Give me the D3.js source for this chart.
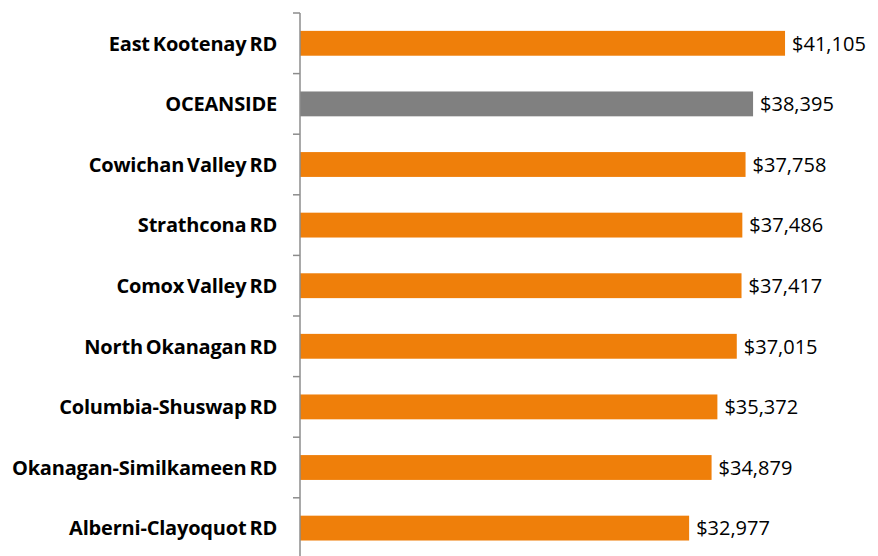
<!DOCTYPE html>
<html>
<head>
<meta charset="utf-8">
<script src="https://cdn.jsdelivr.net/npm/d3@7"></script>
<style>
  body { margin: 0; background: #fff; }
  svg { display: block; }
</style>
</head>
<body>
<div id="chart"></div>
<script>
// regions and median income values (top to bottom)
const regions = ["East Kootenay RD", "OCEANSIDE", "Cowichan Valley RD", "Strathcona RD",
  "Comox Valley RD", "North Okanagan RD", "Columbia-Shuswap RD",
  "Okanagan-Similkameen RD", "Alberni-Clayoquot RD"]
const incomes = [41105, 38395, 37758, 37486, 37417, 37015, 35372, 34879, 32977]
const highlight = "OCEANSIDE"

const width = 878,
    height = 556

const svg = d3.select("#chart")
  .append("svg")
    .attr("width", width)
    .attr("height", height)

// x scale: 0 sits on the axis line
var x = d3.scaleLinear()
  .domain([0, 45000])
  .range([300, 831])

var y = d3.scaleBand()
  .domain(regions)
  .range([13, 13 + 60.6 * regions.length])
  .paddingInner(0.59)
  .paddingOuter(0.295)

// bars
svg.selectAll("rect.bar")
  .data(regions)
  .enter()
  .append("rect")
    .attr("class", "bar")
    .attr("x", x(0))
    .attr("y", d => y(d))
    .attr("width", (d, i) => x(incomes[i]) - x(0))
    .attr("height", y.bandwidth())
    .attr("fill", d => d == highlight ? "#808080" : "#ef7f0a")

// value labels
svg.selectAll("text.val")
  .data(regions)
  .enter()
  .append("text")
    .attr("class", "val")
    .attr("x", (d, i) => x(incomes[i]) + 7)
    .attr("y", d => y(d) + y.bandwidth() / 2)
    .attr("dy", "0.36em")
    .style("font-family", "'Open Sans', sans-serif")
    .style("font-size", "20px")
    .style("fill", "#000")
    .text((d, i) => "$" + d3.format(",")(incomes[i]))

// axis line with ticks between categories
const axisG = svg.append("g")
axisG.append("line")
  .attr("x1", x(0)).attr("x2", x(0))
  .attr("y1", 13).attr("y2", height)
  .attr("stroke", "#8c8c8c")
  .attr("stroke-width", 1.5)

const step = y.step()
axisG.selectAll("line.tick")
  .data(d3.range(regions.length + 1))
  .enter()
  .append("line")
    .attr("class", "tick")
    .attr("x1", x(0) - 7).attr("x2", x(0))
    .attr("y1", d => 13 + d * step)
    .attr("y2", d => 13 + d * step)
    .attr("stroke", "#8c8c8c")
    .attr("stroke-width", 1.5)

// category labels
svg.selectAll("text.cat")
  .data(regions)
  .enter()
  .append("text")
    .attr("class", "cat")
    .attr("x", 277)
    .attr("y", d => y(d) + y.bandwidth() / 2)
    .attr("dy", "0.36em")
    .attr("text-anchor", "end")
    .style("font-family", "'Open Sans', sans-serif")
    .style("font-weight", "bold")
    .style("font-size", "20px")
    .style("word-spacing", "-2px")
    .style("letter-spacing", "-0.2px")
    .style("fill", "#000")
    .text(d => d)
</script>
</body>
</html>
